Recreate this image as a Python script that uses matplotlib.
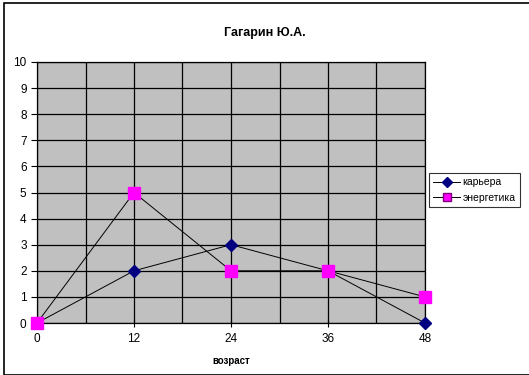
import matplotlib
matplotlib.use('Agg')
import matplotlib.pyplot as plt
from matplotlib.lines import Line2D
from matplotlib.patches import Rectangle

plt.rcParams['font.family'] = ['Liberation Sans', 'DejaVu Sans']

age = [0, 12, 24, 36, 48]
career = [0, 2, 3, 2, 0]
energy = [0, 5, 2, 2, 1]
yticks = list(range(0, 11))

fig = plt.figure(figsize=(5.29, 3.75), dpi=100)
fig.patches.append(Rectangle((4 / 529, 0), 2, 1 - 3 / 375, transform=fig.transFigure,
                             fill=False, edgecolor='black', linewidth=1.2))
ax = fig.add_axes([37 / 529, 1 - 323 / 375, 388 / 529, 261 / 375])
ax.set_facecolor('#c0c0c0')

ax.set_xlim(0, 48)
ax.set_ylim(0, 10)
ax.set_xticks(age)
ax.set_xticks(range(6, 48, 12), minor=True)
ax.set_yticks(yticks)
ax.grid(True, which='both', color='black', linewidth=0.9)
ax.set_axisbelow(True)
ax.tick_params(axis='x', which='major', direction='inout', length=6, labelsize=8.5, pad=4)
ax.tick_params(axis='x', which='minor', length=0)
ax.tick_params(axis='y', direction='out', length=4, labelsize=8.5)
for s in ax.spines.values():
    s.set_linewidth(0.9)

ax.plot(age, career, color='black', linewidth=0.7, marker='D', markersize=6,
        markerfacecolor='#000080', markeredgecolor='#000080', clip_on=False, zorder=3)
ax.plot(age, energy, color='black', linewidth=0.7, marker='s', markersize=8,
        markerfacecolor='#ff00ff', markeredgecolor='#ff00ff', clip_on=False, zorder=3)

fig.text(265 / 529, 1 - 33 / 375, 'Гагарин Ю.А.', fontsize=9, fontweight='bold',
         ha='center', va='center')
ax.set_xlabel('возраст', fontsize=7, fontweight='bold', labelpad=8)

handles = [
    Line2D([], [], color='black', linewidth=0.7, marker='D', markersize=5,
           markerfacecolor='#000080', markeredgecolor='#000080'),
    Line2D([], [], color='black', linewidth=0.7, marker='s', markersize=6,
           markerfacecolor='#ff00ff', markeredgecolor='#800080'),
]
leg = fig.legend(handles, ['карьера', 'энергетика'], loc='center left',
                 bbox_to_anchor=(429 / 529, 1 - 190 / 375), fontsize=7.5,
                 frameon=True, fancybox=False, edgecolor='black',
                 handlelength=2.6, handletextpad=0.2, borderpad=0.4,
                 labelspacing=0.5, borderaxespad=0)
leg.get_frame().set_linewidth(0.8)

fig.savefig('out.png', dpi=100)
